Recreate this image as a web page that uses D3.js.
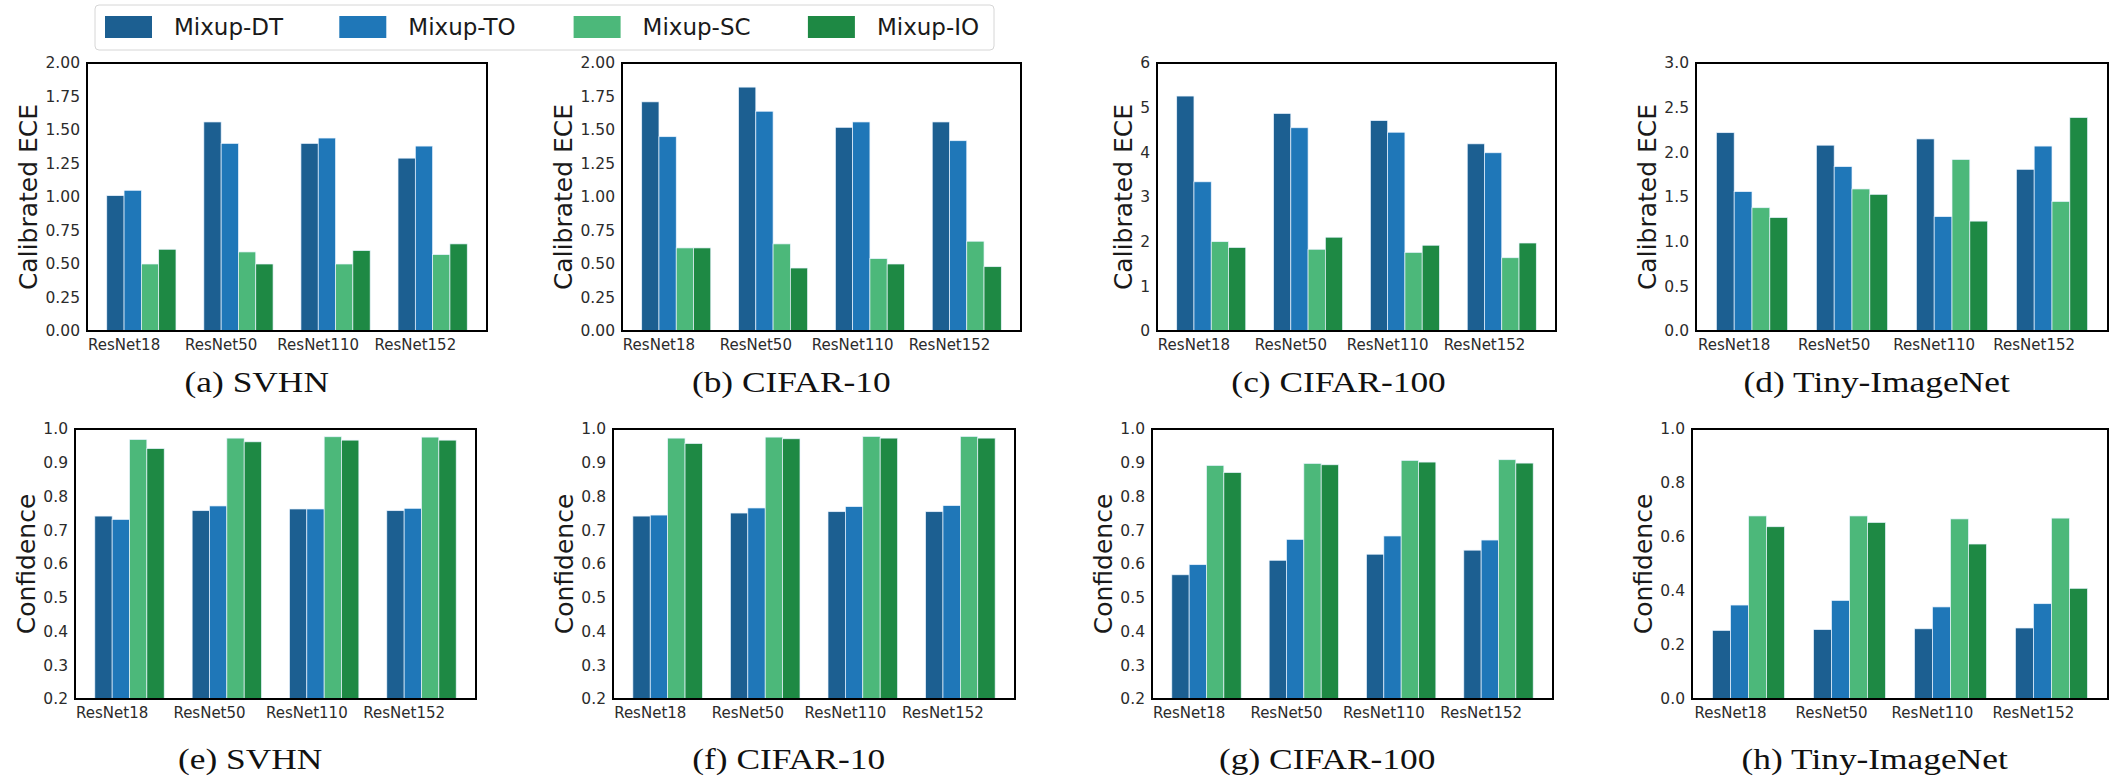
<!DOCTYPE html>
<html>
<head>
<meta charset="utf-8">
<script src="https://cdn.jsdelivr.net/npm/d3@7"></script>
<style>
  body { margin: 0; background: #fff; }
  svg { font-family: "DejaVu Sans", sans-serif; }
</style>
</head>
<body>
<script>
// models on the x axis, methods are the four bars in each group
var models = ["ResNet18", "ResNet50", "ResNet110", "ResNet152"];
var methods = ["Mixup-DT", "Mixup-TO", "Mixup-SC", "Mixup-IO"];
var colors = ["#1c5f91", "#1f77b8", "#4cb87a", "#1e8944"];

// one row per model, columns follow `methods`
var eceSvhn = [
  [1.01, 1.05, 0.50, 0.61],
  [1.56, 1.40, 0.59, 0.50],
  [1.40, 1.44, 0.50, 0.60],
  [1.29, 1.38, 0.57, 0.65]
];
var eceCifar10 = [
  [1.71, 1.45, 0.62, 0.62],
  [1.82, 1.64, 0.65, 0.47],
  [1.52, 1.56, 0.54, 0.50],
  [1.56, 1.42, 0.67, 0.48]
];
var eceCifar100 = [
  [5.26, 3.34, 2.00, 1.87],
  [4.87, 4.55, 1.83, 2.10],
  [4.71, 4.45, 1.76, 1.92],
  [4.19, 3.99, 1.64, 1.97]
];
var eceTiny = [
  [2.22, 1.56, 1.38, 1.27],
  [2.08, 1.84, 1.59, 1.53],
  [2.15, 1.28, 1.92, 1.23],
  [1.81, 2.07, 1.45, 2.39]
];
var confSvhn = [
  [0.742, 0.732, 0.969, 0.942],
  [0.758, 0.772, 0.973, 0.962],
  [0.763, 0.763, 0.977, 0.967],
  [0.758, 0.765, 0.976, 0.967]
];
var confCifar10 = [
  [0.742, 0.745, 0.973, 0.957],
  [0.751, 0.766, 0.976, 0.971],
  [0.755, 0.770, 0.978, 0.973],
  [0.755, 0.773, 0.978, 0.973]
];
var confCifar100 = [
  [0.568, 0.598, 0.892, 0.871],
  [0.611, 0.673, 0.898, 0.894],
  [0.629, 0.683, 0.907, 0.902],
  [0.641, 0.671, 0.909, 0.899]
];
var confTiny = [
  [0.254, 0.348, 0.678, 0.638],
  [0.257, 0.365, 0.678, 0.654],
  [0.260, 0.341, 0.667, 0.574],
  [0.263, 0.353, 0.670, 0.410]
];

// tick values for the y axes
var ticksEce2 = [0, 0.25, 0.5, 0.75, 1, 1.25, 1.5, 1.75, 2];
var ticksEce6 = [0, 1, 2, 3, 4, 5, 6];
var ticksEce3 = [0, 0.5, 1, 1.5, 2, 2.5, 3];
var ticksConf = [0.2, 0.3, 0.4, 0.5, 0.6, 0.7, 0.8, 0.9, 1.0];
var ticksConfTiny = [0, 0.2, 0.4, 0.6, 0.8, 1.0];

var panels = [
  {data: eceSvhn,      ylabel: "Calibrated ECE", caption: "(a) SVHN",          ticks: ticksEce2,     fmt: ".2f"},
  {data: eceCifar10,   ylabel: "Calibrated ECE", caption: "(b) CIFAR-10",      ticks: ticksEce2,     fmt: ".2f"},
  {data: eceCifar100,  ylabel: "Calibrated ECE", caption: "(c) CIFAR-100",     ticks: ticksEce6,     fmt: "d"},
  {data: eceTiny,      ylabel: "Calibrated ECE", caption: "(d) Tiny-ImageNet", ticks: ticksEce3,     fmt: ".1f"},
  {data: confSvhn,     ylabel: "Confidence",     caption: "(e) SVHN",          ticks: ticksConf,     fmt: ".1f"},
  {data: confCifar10,  ylabel: "Confidence",     caption: "(f) CIFAR-10",      ticks: ticksConf,     fmt: ".1f"},
  {data: confCifar100, ylabel: "Confidence",     caption: "(g) CIFAR-100",     ticks: ticksConf,     fmt: ".1f"},
  {data: confTiny,     ylabel: "Confidence",     caption: "(h) Tiny-ImageNet", ticks: ticksConfTiny, fmt: ".1f"}
];

// axes boxes: left, top, right, bottom
var frames = [
  [87, 63, 487, 331], [622, 63, 1021, 331], [1157, 63, 1556, 331], [1696, 63, 2108, 331],
  [75, 429, 476, 699], [613, 429, 1015, 699], [1152, 429, 1553, 699], [1692, 429, 2108, 699]
];
var captionY = [392, 769];

var svg = d3.select("body").append("svg")
    .attr("width", 2120).attr("height", 779);

panels.forEach(function(p, k) {
  var f = frames[k],
      g = svg.append("g");

  var x0 = d3.scaleBand().domain(models).range([f[0], f[2]])
      .paddingInner(0.287).paddingOuter(0.2035);
  var x1 = d3.scaleBand().domain(methods).range([0, x0.bandwidth()]);
  var y = d3.scaleLinear()
      .domain([p.ticks[0], p.ticks[p.ticks.length - 1]])
      .range([f[3], f[1]]);

  // bars
  g.append("g").selectAll("g")
    .data(p.data)
    .join("g")
      .attr("transform", function(d, i) { return "translate(" + x0(models[i]) + ",0)"; })
    .selectAll("rect")
    .data(function(d) { return d; })
    .join("rect")
      .attr("x", function(d, j) { return x1(methods[j]); })
      .attr("y", function(d) { return y(d); })
      .attr("width", x1.bandwidth())
      .attr("height", function(d) { return y.range()[0] - y(d); })
      .attr("fill", function(d, j) { return colors[j]; })
      .attr("stroke", "#eaf4ff")
      .attr("stroke-width", 0.7);

  // y axis
  var ya = g.append("g")
      .attr("transform", "translate(" + f[0] + ",0)")
      .call(d3.axisLeft(y).tickValues(p.ticks).tickFormat(d3.format(p.fmt))
            .tickSize(0).tickPadding(7));
  ya.select(".domain").remove();
  ya.selectAll("text")
      .style("font-family", "DejaVu Sans")
      .style("font-size", "15.5px")
      .attr("fill", "#2b2b2b");

  // x axis, labels sit one bar to the left of the group centre
  var xa = g.append("g")
      .attr("transform", "translate(0," + f[3] + ")")
      .call(d3.axisBottom(x0).tickSize(0).tickPadding(8));
  xa.select(".domain").remove();
  xa.selectAll("text")
      .attr("dx", -x1.bandwidth())
      .style("font-family", "DejaVu Sans")
      .style("font-size", "15px")
      .attr("fill", "#2b2b2b");

  // frame
  g.append("rect")
      .attr("x", f[0]).attr("y", f[1])
      .attr("width", f[2] - f[0]).attr("height", f[3] - f[1])
      .attr("fill", "none")
      .attr("stroke", "#000")
      .attr("stroke-width", 2);

  // y label, just left of the tick labels
  var tb = ya.node().getBBox();
  var lx = f[0] + tb.x - 8;
  g.append("text")
      .attr("transform", "translate(" + lx + "," + (f[1] + f[3]) / 2 + ") rotate(-90)")
      .attr("text-anchor", "middle")
      .style("font-size", "25px")
      .attr("fill", "#1a1a1a")
      .text(p.ylabel);

  // caption centred under the whole subfigure
  var bb = g.node().getBBox();
  g.append("g")
      .attr("transform", "translate(" + (bb.x + bb.width / 2 + 6) + "," + captionY[k < 4 ? 0 : 1] + ") scale(1.22,1)")
    .append("text")
      .attr("text-anchor", "middle")
      .style("font-family", "'Liberation Serif', 'Times New Roman', serif")
      .style("font-size", "29px")
      .attr("fill", "#111")
      .text(p.caption);
});

// legend
var legend = svg.append("g");
legend.append("rect")
    .attr("x", 95).attr("y", 5)
    .attr("width", 899).attr("height", 45)
    .attr("rx", 4)
    .attr("fill", "#fff")
    .attr("stroke", "#d6d6d6");

var items = legend.selectAll("g.item")
    .data(methods)
    .join("g")
      .attr("class", "item")
      .attr("transform", function(d, i) { return "translate(" + (105 + i * 234.3) + ",0)"; });
items.append("rect")
    .attr("y", 16).attr("width", 47).attr("height", 22)
    .attr("fill", function(d, i) { return colors[i]; });
items.append("text")
    .attr("x", 69).attr("y", 35)
    .style("font-size", "23px")
    .attr("fill", "#1a1a1a")
    .text(function(d) { return d; });
</script>
</body>
</html>
